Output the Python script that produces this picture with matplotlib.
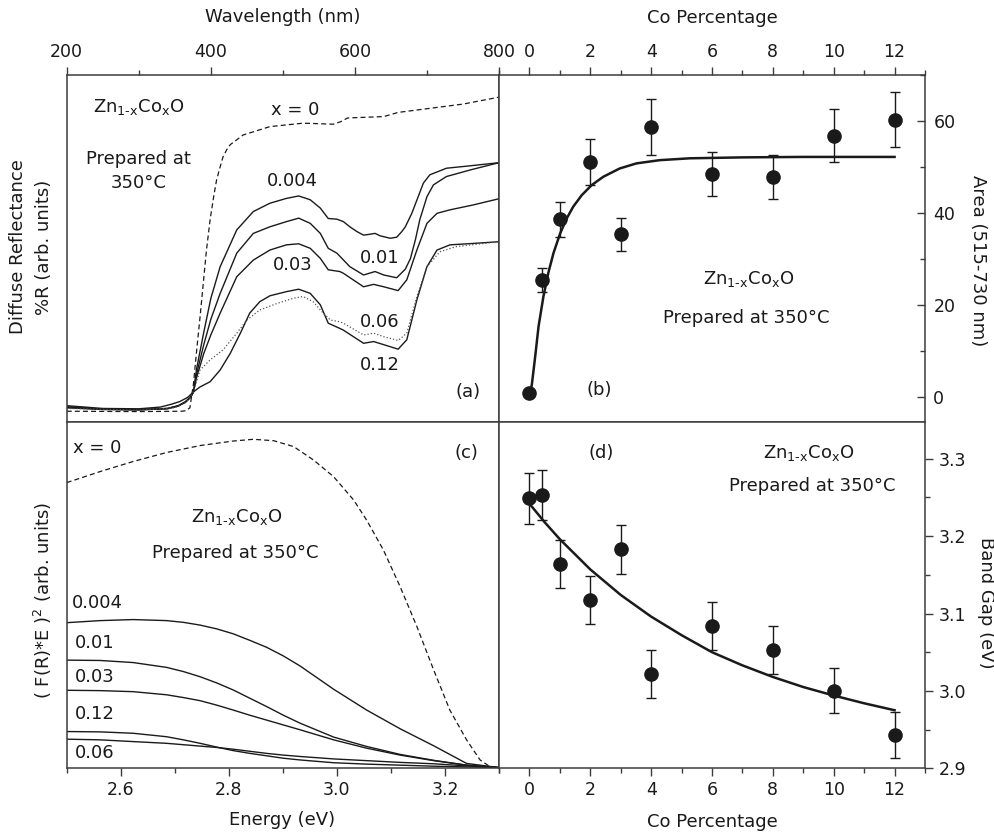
import matplotlib
matplotlib.use("Agg")
import matplotlib.pyplot as plt
from matplotlib.ticker import MultipleLocator, NullLocator, FormatStrFormatter

plt.rcParams['font.family'] = ['DejaVu Sans']
plt.rcParams['mathtext.default'] = 'regular'

INK = '#1a1a1a'
SPINE = '#3c3c3c'

# ---- (a) diffuse reflectance vs wavelength (arb. units, 0-100) ----
wl_x0 = [200, 300, 360, 366, 371, 376, 380, 385, 390, 394, 399, 404, 408, 413, 417, 422,
         427, 436, 445, 482, 528, 570, 580, 590, 640, 660, 705, 750, 800]
r_x0 = [3.0, 2.9, 3.0, 3.2, 4.0, 11.0, 19.8, 30.0, 40.9, 49.5, 58.2, 64.9, 69.7, 73.5, 76.4, 78.4,
        79.9, 81.3, 82.7, 85.1, 86.1, 85.8, 86.5, 87.6, 88.0, 89.2, 90.4, 91.6, 93.6]

wl_004 = [200, 250, 300, 340, 355, 365, 372, 376, 380, 390, 400, 413, 436, 459, 482, 505,
          522, 538, 552, 563, 575, 584, 593, 603, 612, 619, 628, 635, 649, 658, 665, 670,
          679, 686, 695, 704, 727, 760, 800]
r_004 = [4.3, 3.6, 3.4, 3.8, 4.6, 5.8, 7.2, 8.6, 14.9, 25.5, 35.5, 44.7, 55.3, 60.6, 63.0, 64.4,
         65.1, 64.0, 61.6, 58.6, 58.4, 57.7, 56.2, 54.8, 53.8, 54.0, 54.3, 53.6, 52.9, 53.2, 54.8, 56.2,
         60.1, 63.9, 68.8, 71.2, 73.1, 73.8, 74.7]

wl_01 = [200, 250, 300, 340, 355, 365, 372, 376, 380, 390, 400, 413, 436, 459, 482, 505,
         522, 538, 552, 563, 575, 593, 612, 628, 640, 658, 670, 677, 684, 690, 700, 709,
         727, 760, 800]
r_01 = [4.0, 3.5, 3.4, 3.7, 4.5, 5.6, 7.0, 8.6, 13.5, 22.0, 29.5, 37.0, 48.6, 54.3, 56.2, 57.7,
        58.7, 57.2, 54.3, 50.0, 48.6, 44.7, 42.3, 43.3, 42.3, 41.5, 44.0, 47.0, 52.5, 58.2, 64.9, 68.3,
        70.7, 72.6, 74.7]

wl_03 = [200, 250, 300, 340, 355, 365, 372, 376, 380, 390, 400, 413, 436, 459, 482, 505,
         522, 538, 552, 563, 579, 584, 612, 626, 640, 660, 672, 686, 700, 714, 732, 764, 800]
r_03 = [4.1, 3.6, 3.5, 3.8, 4.6, 5.7, 7.1, 8.6, 12.5, 19.5, 25.0, 31.3, 41.8, 46.6, 49.5, 51.0,
        51.3, 50.0, 47.1, 43.8, 43.3, 42.8, 38.9, 39.6, 38.9, 37.8, 40.9, 49.5, 57.2, 60.1, 61.1, 62.5, 64.3]

wl_12 = [200, 250, 300, 330, 345, 357, 368, 376, 385, 399, 413, 427, 441, 454, 468, 482,
         505, 522, 538, 552, 563, 579, 584, 612, 626, 640, 660, 672, 686, 700, 714, 732, 764, 800]
r_12 = [4.6, 3.8, 3.7, 4.2, 5.0, 5.8, 7.0, 8.6, 10.0, 11.5, 14.9, 19.7, 25.5, 31.3, 34.6, 36.3,
        37.5, 38.2, 37.0, 33.7, 28.4, 26.9, 26.4, 22.6, 23.1, 22.2, 20.9, 23.6, 35.1, 44.7, 49.5, 51.0, 51.4, 51.9]

wl_06 = [200, 300, 350, 365, 372, 376, 385, 399, 417, 436, 450, 468, 492, 515, 528, 542,
         556, 566, 579, 584, 612, 626, 640, 660, 672, 686, 700, 718, 741, 800]
r_06 = [3.8, 3.3, 4.0, 5.5, 7.0, 8.6, 14.9, 17.8, 20.7, 25.5, 29.3, 32.2, 34.1, 35.6, 36.1, 34.6,
        31.3, 29.3, 28.8, 28.4, 25.0, 25.5, 24.5, 23.4, 25.5, 36.1, 44.7, 49.0, 50.5, 51.9]

# ---- (b) area vs Co percentage ----
co_pct = [0, 0.4, 1, 2, 3, 4, 6, 8, 10, 12]
area = [1.0, 25.5, 38.7, 51.1, 35.4, 58.7, 48.5, 47.9, 56.8, 60.3]
area_err = [0, 2.6, 3.8, 5.1, 3.6, 6.0, 4.8, 4.8, 5.8, 6.0]
fit_b_x = [0.03, 0.08, 0.19, 0.30, 0.46, 0.62, 0.79, 1.01, 1.23, 1.44, 1.72, 2.05, 2.43,
           2.97, 3.52, 4.29, 5.27, 7, 9, 12]
fit_b_y = [1.0, 2.8, 8.9, 15.4, 21.9, 27.0, 31.3, 35.6, 38.9, 41.4, 43.9, 46.1, 47.9,
           49.7, 50.8, 51.5, 51.9, 52.1, 52.2, 52.2]

# ---- (c) (F(R)*E)^2 vs energy (arb. units, 0-100) ----
en_x0 = [2.5, 2.562, 2.623, 2.685, 2.747, 2.808, 2.845, 2.883, 2.920, 2.957, 2.994, 3.031,
         3.055, 3.086, 3.117, 3.148, 3.179, 3.209, 3.240, 3.265, 3.283, 3.3]
f_x0 = [82.4, 85.6, 88.5, 91.1, 93.1, 94.4, 94.9, 94.5, 92.8, 88.9, 84.1, 77.4,
        71.6, 63.0, 52.4, 40.9, 28.4, 16.8, 8.2, 2.4, 0.5, 0.2]
en = [2.5, 2.562, 2.623, 2.685, 2.716, 2.747, 2.778, 2.808, 2.839, 2.870, 2.901, 2.932,
      2.994, 3.055, 3.117, 3.179, 3.240, 3.3]
f_004 = [42.0, 42.6, 42.9, 42.6, 42.1, 41.3, 40.2, 38.8, 36.9, 34.9, 32.4, 29.5, 22.8, 16.8, 11.4, 6.5, 1.4, 0.2]
f_01 = [31.2, 31.1, 30.5, 29.1, 27.9, 26.4, 24.6, 22.6, 20.2, 17.8, 15.3, 13.0, 9.0, 6.3, 4.0, 2.3, 0.9, 0.2]
f_03 = [22.5, 22.4, 22.1, 21.2, 20.4, 19.5, 18.2, 16.8, 15.3, 13.9, 12.5, 11.1, 8.2, 5.8, 3.8, 2.2, 0.9, 0.2]
f_12 = [10.6, 10.5, 10.1, 9.1, 8.2, 7.2, 6.1, 5.1, 4.3, 3.6, 2.9, 2.4, 1.6, 1.2, 0.9, 0.6, 0.4, 0.2]
f_06 = [8.4, 8.2, 7.7, 7.2, 6.8, 6.4, 6.0, 5.5, 4.9, 4.3, 3.8, 3.4, 2.7, 2.2, 1.7, 1.3, 0.7, 0.2]

# ---- (d) band gap vs Co percentage ----
gap = [3.249, 3.253, 3.164, 3.117, 3.183, 3.022, 3.084, 3.053, 3.000, 2.943]
gap_err = [0.033, 0.032, 0.031, 0.031, 0.032, 0.031, 0.031, 0.031, 0.029, 0.030]
fit_d_x = [0, 0.5, 1, 2, 3, 4, 5, 6, 7, 8, 9, 10, 11, 12]
fit_d_y = [3.242, 3.218, 3.196, 3.157, 3.124, 3.096, 3.072, 3.050, 3.033, 3.018, 3.005, 2.994,
           2.984, 2.975]

zn_label = 'Zn$_{1\u2010x}$Co$_{x}$O'

fig = plt.figure(figsize=(9.94, 8.34), dpi=100)
gs = fig.add_gridspec(2, 2, left=0.0671, right=0.9306, top=0.9101, bottom=0.0788,
                      wspace=0, hspace=0, width_ratios=[432.3, 426])
ax_a = fig.add_subplot(gs[0, 0])
ax_b = fig.add_subplot(gs[0, 1])
ax_c = fig.add_subplot(gs[1, 0])
ax_d = fig.add_subplot(gs[1, 1])

for ax in (ax_a, ax_b, ax_c, ax_d):
    for sp in ax.spines.values():
        sp.set_color(SPINE)
        sp.set_linewidth(1.1)
    ax.tick_params(which='both', color=SPINE, labelcolor=INK, labelsize=12.5, width=1)
    ax.tick_params(which='major', length=6)
    ax.tick_params(which='minor', length=3.5)

dash = (0, (4, 2.5))
fs = 13

def note(ax, x, y, s, ha='center'):
    ax.text(x, y, s, transform=ax.transAxes, ha=ha, va='center', fontsize=fs, color=INK)

# panel (a)
ax_a.plot(wl_x0, r_x0, color=INK, lw=0.9, ls=dash)
ax_a.plot(wl_004, r_004, color=INK, lw=1.0)
ax_a.plot(wl_01, r_01, color=INK, lw=1.0)
ax_a.plot(wl_03, r_03, color=INK, lw=1.0)
ax_a.plot(wl_12, r_12, color=INK, lw=1.0)
ax_a.plot(wl_06, r_06, color='#555555', lw=0.9, ls=':')
ax_a.set_xlim(200, 800)
ax_a.set_ylim(0, 100)
ax_a.xaxis.set_major_locator(MultipleLocator(200))
ax_a.xaxis.set_minor_locator(MultipleLocator(100))
ax_a.tick_params(axis='x', which='both', top=True, bottom=False, labeltop=True,
                 labelbottom=False, direction='out', pad=4)
ax_a.yaxis.set_major_locator(NullLocator())
note(ax_a, 0.167, 0.908, zn_label)
note(ax_a, 0.528, 0.899, 'x = 0')
note(ax_a, 0.167, 0.758, 'Prepared at')
note(ax_a, 0.167, 0.688, '350°C')
for s, xf, yf in [('0.004', 0.523, 0.694), ('0.01', 0.725, 0.472), ('0.03', 0.523, 0.452),
                  ('0.06', 0.725, 0.288), ('0.12', 0.725, 0.164), ('(a)', 0.928, 0.086)]:
    note(ax_a, xf, yf, s)

# panel (b)
ax_b.plot(fit_b_x, fit_b_y, color=INK, lw=1.8, zorder=2)
ax_b.errorbar(co_pct, area, yerr=area_err, fmt='o', color=INK, ms=9.5, ecolor=INK,
              elinewidth=1.0, capsize=3.5, capthick=1.0, zorder=3)
ax_b.set_xlim(-1, 13)
ax_b.set_ylim(-5.3, 70)
ax_b.xaxis.set_major_locator(MultipleLocator(2))
ax_b.xaxis.set_minor_locator(MultipleLocator(1))
ax_b.yaxis.set_major_locator(MultipleLocator(20))
ax_b.yaxis.set_minor_locator(MultipleLocator(10))
ax_b.tick_params(axis='x', which='both', top=True, bottom=False, labeltop=True,
                 labelbottom=False, direction='out', pad=4)
ax_b.tick_params(axis='y', which='both', right=True, left=False, labelright=True,
                 labelleft=False, direction='in', pad=6)
note(ax_b, 0.587, 0.411, zn_label)
note(ax_b, 0.581, 0.298, 'Prepared at 350°C')
note(ax_b, 0.236, 0.091, '(b)')

# panel (c)
ax_c.plot(en_x0, f_x0, color=INK, lw=0.9, ls=dash)
for f in (f_004, f_01, f_03, f_12, f_06):
    ax_c.plot(en, f, color=INK, lw=1.0)
ax_c.set_xlim(2.5, 3.3)
ax_c.set_ylim(0, 100)
ax_c.xaxis.set_major_locator(MultipleLocator(0.2))
ax_c.xaxis.set_minor_locator(MultipleLocator(0.1))
ax_c.xaxis.set_major_formatter(FormatStrFormatter('%.1f'))
ax_c.tick_params(axis='x', which='both', direction='out', pad=3)
ax_c.yaxis.set_major_locator(NullLocator())
note(ax_c, 0.014, 0.925, 'x = 0', ha='left')
note(ax_c, 0.925, 0.910, '(c)')
note(ax_c, 0.392, 0.726, zn_label)
note(ax_c, 0.389, 0.622, 'Prepared at 350°C')
for s, yf in [('0.004', 0.476), ('0.01', 0.361), ('0.03', 0.264), ('0.12', 0.157), ('0.06', 0.043)]:
    note(ax_c, 0.012 if s == '0.004' else 0.02, yf, s, ha='left')

# panel (d)
ax_d.plot(fit_d_x, fit_d_y, color=INK, lw=1.8, zorder=2)
ax_d.errorbar(co_pct, gap, yerr=gap_err, fmt='o', color=INK, ms=9.5, ecolor=INK,
              elinewidth=1.0, capsize=3.5, capthick=1.0, zorder=3)
ax_d.set_xlim(-1, 13)
ax_d.set_ylim(2.9, 3.348)
ax_d.xaxis.set_major_locator(MultipleLocator(2))
ax_d.xaxis.set_minor_locator(MultipleLocator(1))
ax_d.yaxis.set_major_locator(MultipleLocator(0.1))
ax_d.yaxis.set_minor_locator(MultipleLocator(0.05))
ax_d.yaxis.set_major_formatter(FormatStrFormatter('%.1f'))
ax_d.tick_params(axis='x', which='both', direction='out', pad=3)
ax_d.tick_params(axis='y', which='both', right=True, left=False, labelright=True,
                 labelleft=False, direction='out', pad=4)
note(ax_d, 0.24, 0.909, '(d)')
note(ax_d, 0.726, 0.910, zn_label)
note(ax_d, 0.735, 0.814, 'Prepared at 350°C')

# axis titles, placed in figure pixels
W, H = 994.0, 834.0
def ftext(x, y, s, rot=0):
    fig.text(x / W, 1 - y / H, s, ha='center', va='center', rotation=rot, fontsize=13, color=INK)

ftext(282.8, 17, 'Wavelength (nm)')
ftext(712.5, 18, 'Co Percentage')
ftext(18.3, 247, 'Diffuse Reflectance', 90)
ftext(44.3, 247, '%R (arb. units)', 90)
ftext(42.7, 600, r'( F(R)*E )$^{2}$ (arb. units)', 90)
ftext(282.5, 820, 'Energy (eV)')
ftext(712.5, 821.7, 'Co Percentage')
ftext(978, 260.8, 'Area (515-730 nm)', 270)
ftext(986, 603.3, 'Band Gap (eV)', 270)

fig.savefig('out.png', dpi=100)
